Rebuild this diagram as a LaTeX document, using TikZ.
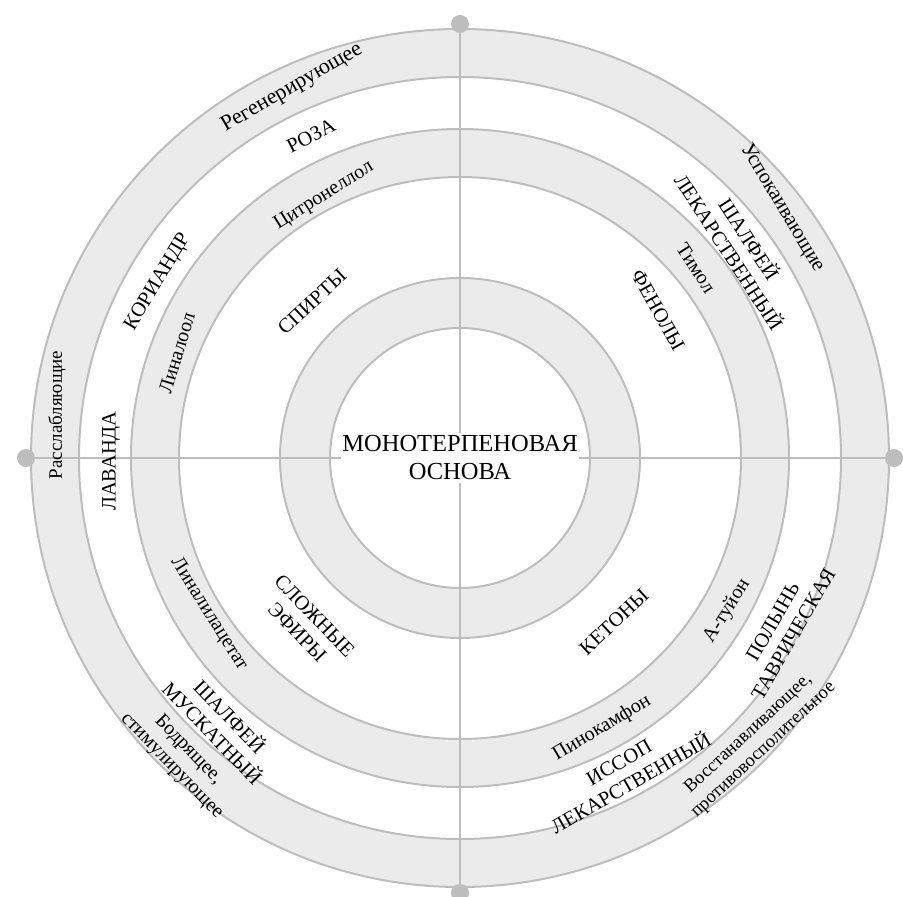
\documentclass[tikz,border=0pt]{standalone}
\usepackage{fontspec}
\setmainfont{Liberation Serif}
\definecolor{ringfill}{HTML}{EBEBEB}
\definecolor{ringline}{HTML}{BDBDBD}
\begin{document}
\begin{tikzpicture}[x=1pt,y=-1pt,
  ring/.style={draw=ringline, line width=2pt},
  axis/.style={draw=ringline, line width=2pt},
  enddot/.style={circle, fill=ringline, minimum size=18pt, inner sep=0pt},
  big/.style={font=\fontsize{20.5}{24}\selectfont, align=center, inner sep=0pt},
  small/.style={font=\fontsize{20}{23}\selectfont, align=center, inner sep=0pt}]
\useasboundingbox (0,0) rectangle (903,897);
\coordinate (C) at (460,458);
\fill[ringfill, even odd rule] (C) circle[radius=429pt] (C) circle[radius=381pt];
\fill[ringfill, even odd rule] (C) circle[radius=329pt] (C) circle[radius=281pt];
\fill[ringfill, even odd rule] (C) circle[radius=180pt] (C) circle[radius=130pt];
\node[enddot] (dt) at (460,24) {};
\node[enddot] (db) at (460,893) {};
\node[enddot] (dl) at (26,458) {};
\node[enddot] (dr) at (894,458) {};
\draw[axis] (dt.center) -- (db.center);
\draw[axis] (dl.center) -- (dr.center);
\foreach \r in {130,180,281,329,381,429} \draw[ring] (C) circle[radius=\r pt];
\node[fill=white, inner xsep=1pt, inner ysep=3pt, font=\fontsize{24.5}{28}\selectfont, align=center] (core) at (C) {МОНОТЕРПЕНОВАЯ\\ОСНОВА};
\node[small, font=\fontsize{22}{24}\selectfont, rotate=30] (regen) at (292,88) {Регенерирующее};
\node[big, rotate=27] (roza) at (311,136) {РОЗА};
\node[small, rotate=32] (citr) at (324,196) {Цитронеллол};
\node[big, rotate=59] (kor) at (158,282) {КОРИАНДР};
\node[small, rotate=73] (lin) at (177,353) {Линалоол};
\node[big, rotate=43] (spirt) at (312,302) {СПИРТЫ};
\node[small, font=\fontsize{19}{22}\selectfont, rotate=90] (rassl) at (57,415) {Расслабляющие};
\node[big, rotate=90] (lav) at (111,461) {ЛАВАНДА};
\node[small, rotate=-58] (linac) at (209,614) {Линалилацетат};
\node[big, rotate=-46] (sl) at (306,624) {СЛОЖНЫЕ\\ЭФИРЫ};
\node[big, rotate=-46] (shm) at (222,724) {ШАЛФЕЙ\\МУСКАТНЫЙ};
\node[small, rotate=-46] (bodr) at (180,758) {Бодрящее,\\стимулирующее};
\node[big, rotate=30] (iss) at (625,773) {ИССОП\\ЛЕКАРСТВЕННЫЙ};
\node[small, rotate=31] (pin) at (602,728) {Пинокамфон};
\node[big, rotate=43] (ket) at (614,622) {КЕТОНЫ};
\node[small, rotate=58] (tuy) at (727,611) {А-туйон};
\node[big, rotate=60] (pol) at (783,628) {ПОЛЫНЬ\\ТАВРИЧЕСКАЯ};
\node[small, font=\fontsize{18.5}{22}\selectfont, rotate=43] (vost) at (756,742) {Восстанавливающее,\\противовосполительное};
\node[small, font=\fontsize{21}{23}\selectfont, rotate=-59] (usp) at (782,208) {Успокаивающие};
\node[big, rotate=-57] (shl) at (740,245) {ШАЛФЕЙ\\ЛЕКАРСТВЕННЫЙ};
\node[small, rotate=-57] (tim) at (696,268) {Тимол};
\node[big, rotate=-61] (fen) at (658,310) {ФЕНОЛЫ};
\end{tikzpicture}
\end{document}
